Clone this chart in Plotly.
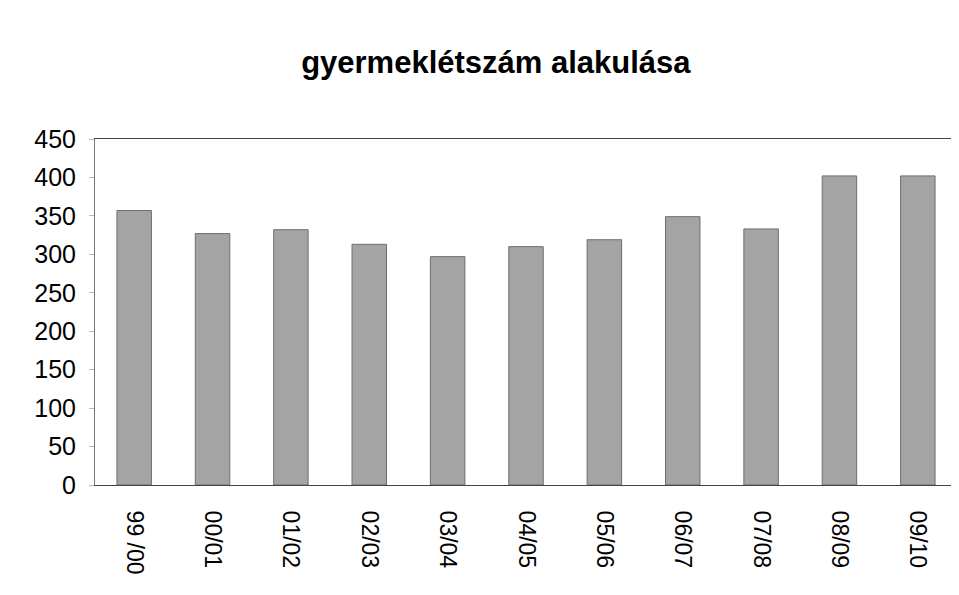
import plotly.graph_objects as go

categories = ["99 /00", "00/01", "01/02", "02/03", "03/04", "04/05",
              "05/06", "06/07", "07/08", "08/09", "09/10"]
values = [357, 327, 332, 313, 297, 310, 319, 349, 333, 402, 402]
y_ticks = [0, 50, 100, 150, 200, 250, 300, 350, 400, 450]

fig = go.Figure(go.Bar(
    x=categories, y=values,
    marker=dict(color="#a4a4a4", line=dict(color="#6e6e6e", width=1)),
))

fig.update_layout(
    width=951, height=587,
    margin=dict(l=87, r=2, t=131, b=110),
    paper_bgcolor="white", plot_bgcolor="white",
    bargap=0.56,
    showlegend=False,
    font=dict(family="Liberation Sans, Arial, sans-serif", color="black"),
    title=dict(text="<b>gyermeklétszám alakulása</b>", x=0.513, xanchor="center",
               y=0.908, yanchor="middle", font=dict(size=31, color="black")),
)
fig.update_yaxes(
    range=[0, 450], tickvals=y_ticks, showgrid=False,
    showline=True, linecolor="#777", linewidth=1, mirror=True,
    ticks="outside", ticklen=5, tickcolor="#bbb",
    tickfont=dict(size=25), ticklabelstandoff=8,
)
fig.update_xaxes(
    tickangle=90, showgrid=False,
    showline=True, linecolor="#444", linewidth=1, mirror=True,
    ticks="", tickfont=dict(size=23), ticklabelstandoff=20,
)

fig.write_html("out.html")
